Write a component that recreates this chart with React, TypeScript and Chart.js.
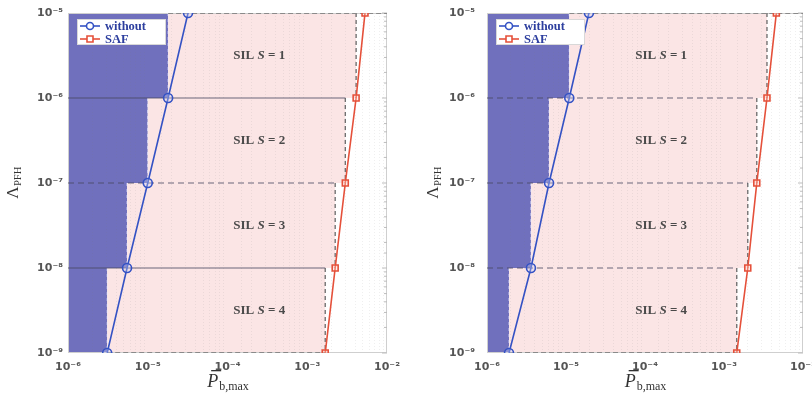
import React, { useEffect, useRef } from 'react';
import { Chart, registerables } from 'chart.js';

Chart.register(...registerables);

// ---- data ----
const LEVELS = [1e-9, 1e-8, 1e-7, 1e-6, 1e-5];
const LEFT_WITHOUT = [3.1e-6, 5.5e-6, 1.0e-5, 1.8e-5, 3.2e-5];
const LEFT_SAF = [1.68e-3, 2.24e-3, 3.0e-3, 4.1e-3, 5.3e-3];
const RIGHT_WITHOUT = [1.9e-6, 3.6e-6, 6.1e-6, 1.1e-5, 1.95e-5];
const RIGHT_SAF = [1.45e-3, 2.0e-3, 2.6e-3, 3.5e-3, 4.6e-3];
const SIL_NUMBERS = [4, 3, 2, 1];
const SERIES_NAMES = ['without', 'SAF'];
const X_TICKS = [1e-6, 1e-5, 1e-4, 1e-3, 1e-2];
const Y_TICKS = [1e-9, 1e-8, 1e-7, 1e-6, 1e-5];
const LEFT_SIL_X = 2.5e-4;
const RIGHT_SIL_X = 1.6e-4;

// ---- styles ----
const BLUE = '#3452c4';
const RED = '#e5503a';
const REGION_BLUE = '#7070bd';
const REGION_PINK = '#fbe5e5';
const LEGEND_TEXT = '#2c3e9e';

const SUP: Record<string, string> = {
  '-': '\u207B', '0': '\u2070', '1': '\u00B9', '2': '\u00B2', '3': '\u00B3',
  '4': '\u2074', '5': '\u2075', '6': '\u2076', '7': '\u2077', '8': '\u2078', '9': '\u2079',
};

function isPow(v: number, list: number[]) {
  return list.some((t) => Math.abs(Math.log10(v) - Math.log10(t)) < 1e-6);
}
function powLabel(v: number) {
  const e = Math.round(Math.log10(v));
  return '10' + String(e).split('').map((c) => SUP[c]).join('');
}

type PanelProps = {
  without: number[];
  saf: number[];
  silX: number;
  left: number;
  width: number;
  plotLeft: number;
  plotRight: number;
  tickPad: number;
  yTitleX: number;
  hDash: boolean[]; // for levels 1e-8, 1e-7, 1e-6
};

function Panel(p: PanelProps) {
  const ref = useRef<HTMLCanvasElement | null>(null);

  useEffect(() => {
    const canvas = ref.current;
    if (!canvas) return;

    const regionPlugin = {
      id: 'regions',
      beforeDraw(chart: any) {
        const ctx = chart.ctx as CanvasRenderingContext2D;
        const xs = chart.scales.x;
        const ys = chart.scales.y;
        const area = chart.chartArea;
        ctx.save();
        for (let i = 0; i < 4; i++) {
          const yb = ys.getPixelForValue(LEVELS[i]);
          const yt = ys.getPixelForValue(LEVELS[i + 1]);
          const xb = xs.getPixelForValue(p.without[i]);
          const xr = xs.getPixelForValue(p.saf[i]);
          ctx.fillStyle = REGION_BLUE;
          ctx.fillRect(area.left, yt, xb - area.left, yb - yt);
          ctx.fillStyle = REGION_PINK;
          ctx.fillRect(xb, yt, xr - xb, yb - yt);
        }
        ctx.restore();
      },
      beforeDatasetsDraw(chart: any) {
        const ctx = chart.ctx as CanvasRenderingContext2D;
        const xs = chart.scales.x;
        const ys = chart.scales.y;
        const area = chart.chartArea;
        ctx.save();
        // frame
        ctx.strokeStyle = '#cfcfcf';
        ctx.lineWidth = 1;
        ctx.setLineDash([]);
        ctx.strokeRect(area.left + 0.5, area.top + 0.5, area.right - area.left - 1, area.bottom - area.top - 1);
        // right side minor ticks
        ctx.strokeStyle = '#bdbdbd';
        for (const t of ys.ticks) {
          const y = ys.getPixelForValue(t.value);
          const len = isPow(t.value, Y_TICKS) ? 5 : 3;
          ctx.beginPath();
          ctx.moveTo(area.right, y);
          ctx.lineTo(area.right - len, y);
          ctx.stroke();
        }
        for (let i = 0; i < 4; i++) {
          const yb = ys.getPixelForValue(LEVELS[i]);
          const yt = ys.getPixelForValue(LEVELS[i + 1]);
          const xb = xs.getPixelForValue(p.without[i]);
          const xr = xs.getPixelForValue(p.saf[i]);
          // blue/pink boundary
          ctx.strokeStyle = 'rgba(235,235,255,0.75)';
          ctx.lineWidth = 1;
          ctx.setLineDash([3, 3]);
          ctx.beginPath();
          ctx.moveTo(xb, yt);
          ctx.lineTo(xb, yb);
          ctx.stroke();
          // pink end
          ctx.strokeStyle = '#6a6a6a';
          ctx.lineWidth = 1.3;
          ctx.setLineDash([4, 3]);
          ctx.beginPath();
          ctx.moveTo(xr, yt);
          ctx.lineTo(xr, yb);
          ctx.stroke();
        }
        // internal horizontal separators
        for (let k = 1; k <= 3; k++) {
          const y = ys.getPixelForValue(LEVELS[k]);
          const xe = xs.getPixelForValue(p.saf[k - 1]);
          ctx.strokeStyle = 'rgba(70,70,95,0.8)';
          ctx.lineWidth = 1.2;
          ctx.setLineDash(p.hDash[k - 1] ? [6, 4] : []);
          ctx.beginPath();
          ctx.moveTo(area.left, y);
          ctx.lineTo(xe, y);
          ctx.stroke();
        }
        // top and bottom dashed edges of the pink region
        ctx.strokeStyle = '#8a8a8a';
        ctx.lineWidth = 1.2;
        ctx.setLineDash([5, 3]);
        const yTop = ys.getPixelForValue(LEVELS[4]);
        ctx.beginPath();
        ctx.moveTo(xs.getPixelForValue(p.without[3]), yTop + 0.5);
        ctx.lineTo(area.right, yTop + 0.5);
        ctx.stroke();
        const yBot = ys.getPixelForValue(LEVELS[0]);
        ctx.beginPath();
        ctx.moveTo(xs.getPixelForValue(p.without[0]), yBot - 0.5);
        ctx.lineTo(xs.getPixelForValue(p.saf[0]), yBot - 0.5);
        ctx.stroke();
        ctx.restore();
      },
      afterDraw(chart: any) {
        const ctx = chart.ctx as CanvasRenderingContext2D;
        const xs = chart.scales.x;
        const ys = chart.scales.y;
        const area = chart.chartArea;
        ctx.save();
        ctx.setLineDash([]);
        // SIL labels
        for (let i = 0; i < 4; i++) {
          const yc = ys.getPixelForValue(Math.sqrt(LEVELS[i] * LEVELS[i + 1]));
          const xc = xs.getPixelForValue(p.silX);
          const parts: [string, string][] = [
            ['SIL ', 'bold 13px "Liberation Serif", serif'],
            ['S', 'italic bold 13px "Liberation Serif", serif'],
            [' = ' + SIL_NUMBERS[i], 'bold 13px "Liberation Serif", serif'],
          ];
          let w = 0;
          for (const [t, f] of parts) { ctx.font = f; w += ctx.measureText(t).width; }
          let x = xc - w / 2;
          ctx.fillStyle = '#4a4a4a';
          ctx.textBaseline = 'middle';
          ctx.textAlign = 'left';
          for (const [t, f] of parts) {
            ctx.font = f;
            ctx.fillText(t, x, yc);
            x += ctx.measureText(t).width;
          }
        }
        // legend
        const lx = area.left + 9;
        const ly = area.top + 6;
        ctx.fillStyle = '#ffffff';
        ctx.fillRect(lx, ly, 89, 26);
        ctx.strokeStyle = '#d8d8d8';
        ctx.lineWidth = 1;
        ctx.strokeRect(lx + 0.5, ly + 0.5, 88, 25);
        const rows = [
          { name: SERIES_NAMES[0], color: BLUE, shape: 'circle' },
          { name: SERIES_NAMES[1], color: RED, shape: 'rect' },
        ];
        rows.forEach((r, j) => {
          const yy = ly + 7 + j * 13;
          ctx.strokeStyle = r.color;
          ctx.lineWidth = 1.6;
          ctx.beginPath();
          ctx.moveTo(lx + 3, yy);
          ctx.lineTo(lx + 23, yy);
          ctx.stroke();
          ctx.beginPath();
          if (r.shape === 'circle') ctx.arc(lx + 13, yy, 3.5, 0, Math.PI * 2);
          else ctx.rect(lx + 10, yy - 3, 6, 6);
          ctx.fillStyle = '#ffffff';
          ctx.fill();
          ctx.stroke();
          ctx.fillStyle = LEGEND_TEXT;
          ctx.font = 'bold 12.5px "Liberation Serif", serif';
          ctx.textBaseline = 'middle';
          ctx.textAlign = 'left';
          ctx.fillText(r.name, lx + 28, yy + 1);
        });
        // y title: Lambda_PFH
        ctx.fillStyle = '#333333';
        ctx.save();
        ctx.translate(p.yTitleX, (area.top + area.bottom) / 2);
        ctx.rotate(-Math.PI / 2);
        ctx.font = '17px "Liberation Serif", serif';
        const wL = ctx.measureText('\u039B').width;
        ctx.font = '10.5px "Liberation Serif", serif';
        const wS = ctx.measureText('PFH').width;
        const x0 = -(wL + wS) / 2;
        ctx.textBaseline = 'alphabetic';
        ctx.font = '17px "Liberation Serif", serif';
        ctx.fillText('\u039B', x0, 0);
        ctx.font = '10.5px "Liberation Serif", serif';
        ctx.fillText('PFH', x0 + wL + 0.5, 3);
        ctx.restore();
        // x title: P-bar_{b,max}
        const cx = (area.left + area.right) / 2;
        const by = 387;
        ctx.font = 'italic 18px "Liberation Serif", serif';
        const wP = ctx.measureText('P').width;
        ctx.font = '12px "Liberation Serif", serif';
        const wb = ctx.measureText('b,max').width;
        const sx = cx - (wP + wb) / 2;
        ctx.font = 'italic 18px "Liberation Serif", serif';
        ctx.textBaseline = 'alphabetic';
        ctx.fillStyle = '#333333';
        ctx.fillText('P', sx, by);
        ctx.fillRect(sx + 4, by - 17, wP - 1, 1.3);
        ctx.font = '12px "Liberation Serif", serif';
        ctx.fillText('b,max', sx + wP + 1, by + 3);
        ctx.restore();
      },
    };

    const tickFont = { family: '"DejaVu Sans", sans-serif', size: 11, weight: 'bold' as const };

    const chart = new Chart(canvas, {
      type: 'line',
      data: {
        datasets: [
          {
            label: SERIES_NAMES[0],
            data: p.without.map((x, i) => ({ x, y: LEVELS[i] })),
            borderColor: BLUE,
            borderWidth: 1.6,
            pointStyle: 'circle',
            pointRadius: 4.5,
            pointBorderWidth: 1.6,
            pointBorderColor: BLUE,
            pointBackgroundColor: 'rgba(200,205,245,0.35)',
            fill: false,
            tension: 0,
          },
          {
            label: SERIES_NAMES[1],
            data: p.saf.map((x, i) => ({ x, y: LEVELS[i] })),
            borderColor: RED,
            borderWidth: 1.6,
            pointStyle: 'rect',
            pointRadius: 4.2,
            pointBorderWidth: 1.6,
            pointBorderColor: RED,
            pointBackgroundColor: 'rgba(255,210,200,0.35)',
            fill: false,
            tension: 0,
          },
        ],
      },
      options: {
        responsive: false,
        animation: false,
        devicePixelRatio: 1,
        layout: { padding: { left: 0, right: p.width - p.plotRight, top: 13, bottom: 0 } },
        plugins: { legend: { display: false }, tooltip: { enabled: false } },
        scales: {
          x: {
            type: 'logarithmic',
            min: X_TICKS[0],
            max: X_TICKS[X_TICKS.length - 1],
            afterFit(s: any) { s.height = 43; s.paddingLeft = 0; s.paddingRight = 0; },
            ticks: {
              autoSkip: false,
              maxRotation: 0,
              padding: 8,
              color: '#555555',
              font: tickFont,
              callback: (v: any) => (isPow(Number(v), X_TICKS) ? powLabel(Number(v)) : ''),
            },
            grid: {
              drawTicks: false,
              color: (c: any) => (c.tick && isPow(c.tick.value, X_TICKS) ? 'rgba(0,0,0,0)' : 'rgba(120,120,120,0.12)'),
              lineWidth: 1,
            },
            border: { display: false, dash: [1, 2] },
          },
          y: {
            type: 'logarithmic',
            min: Y_TICKS[0],
            max: Y_TICKS[Y_TICKS.length - 1],
            afterFit(s: any) { s.width = p.plotLeft; s.paddingTop = 0; s.paddingBottom = 0; },
            ticks: {
              autoSkip: false,
              padding: p.tickPad,
              color: '#555555',
              font: tickFont,
              callback: (v: any) => (isPow(Number(v), Y_TICKS) ? powLabel(Number(v)) : ''),
            },
            grid: { display: false, drawTicks: false },
            border: { display: false },
          },
        },
      },
      plugins: [regionPlugin],
    } as any);

    return () => chart.destroy();
  }, []);

  return (
    <canvas
      ref={ref}
      width={p.width}
      height={396}
      style={{ position: 'absolute', left: p.left, top: 0, width: p.width, height: 396 }}
    />
  );
}

export default function App() {
  return (
    <div style={{ position: 'absolute', left: 0, top: 0, width: 812, height: 396, overflow: 'hidden', background: '#ffffff' }}>
      <Panel
        without={LEFT_WITHOUT}
        saf={LEFT_SAF}
        silX={LEFT_SIL_X}
        left={0}
        width={400}
        plotLeft={68}
        plotRight={387}
        tickPad={5}
        yTitleX={18}
        hDash={[false, true, false]}
      />
      <Panel
        without={RIGHT_WITHOUT}
        saf={RIGHT_SAF}
        silX={RIGHT_SIL_X}
        left={400}
        width={420}
        plotLeft={87}
        plotRight={403}
        tickPad={12}
        yTitleX={38}
        hDash={[true, true, true]}
      />
    </div>
  );
}
